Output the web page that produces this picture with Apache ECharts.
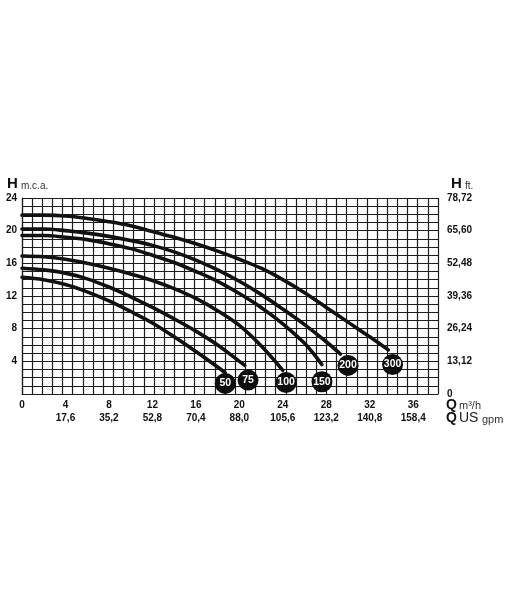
<!DOCTYPE html>
<html><head><meta charset="utf-8">
<script src="https://cdn.jsdelivr.net/npm/echarts@6/dist/echarts.min.js"></script>
<style>html,body{margin:0;padding:0;background:#fff}#c{width:510px;height:600px}</style>
</head><body><div id="c"></div>
<script>
// Axis ticks and labels
const xTicks = [0, 4, 8, 12, 16, 20, 24, 28, 32, 36];
const gpmLabels = ['', '17,6', '35,2', '52,8', '70,4', '88,0', '105,6', '123,2', '140,8', '158,4'];
const yTicksM = [0, 4, 8, 12, 16, 20, 24];
const ftLabels = ['0', '13,12', '26,24', '39,36', '52,48', '65,60', '78,72'];

// Pump curves (Q m3/h, H m.c.a.)
const q50  = [0, 2, 4, 6, 8, 10, 12, 14, 16, 18, 18.7];
const h50  = [14.3, 14.0, 13.4, 12.5, 11.4, 10.1, 8.7, 7.0, 5.2, 3.3, 2.6];
const q75  = [0, 2, 4, 6, 8, 10, 12, 14, 16, 18, 20, 20.5];
const h75  = [15.4, 15.2, 14.8, 14.1, 13.1, 11.9, 10.6, 9.2, 7.7, 6.0, 4.0, 3.5];
const q100 = [0, 2, 4, 6, 8, 10, 12, 14, 16, 18, 20, 22, 24];
const h100 = [16.9, 16.8, 16.5, 16.0, 15.4, 14.7, 13.9, 12.9, 11.7, 10.2, 8.4, 5.9, 2.9];
const q150 = [0, 2, 4, 6, 8, 10, 12, 14, 16, 18, 20, 22, 24, 26, 27.6];
const h150 = [19.4, 19.4, 19.2, 18.9, 18.4, 17.8, 17.0, 16.1, 15.0, 13.8, 12.3, 10.6, 8.6, 6.2, 3.6];
const q200 = [0, 2, 4, 6, 8, 10, 12, 14, 16, 18, 20, 22, 24, 26, 28, 29.3];
const h200 = [20.2, 20.2, 20.0, 19.7, 19.3, 18.8, 18.2, 17.4, 16.4, 15.2, 13.8, 12.2, 10.4, 8.5, 6.4, 4.9];
const q300 = [0, 2, 4, 6, 8, 10, 12, 14, 16, 18, 20, 22, 24, 26, 28, 30, 32, 33.7];
const h300 = [21.9, 21.9, 21.8, 21.5, 21.1, 20.6, 19.9, 19.2, 18.4, 17.5, 16.5, 15.4, 14.0, 12.4, 10.6, 8.8, 7.0, 5.4];

// Curve labels (circles)
const curveNames = ['50', '75', '100', '150', '200', '300'];
const markerQ = [18.7, 20.8, 24.3, 27.6, 30.0, 34.1];
const markerH = [1.3, 1.7, 1.4, 1.5, 3.5, 3.6];

const curves = [[q50, h50], [q75, h75], [q100, h100], [q150, h150], [q200, h200], [q300, h300]];
const zip = (a, b) => a.map((v, i) => [v, b[i]]);

const FONT = "'Liberation Sans', Arial, sans-serif";
const gridColor = '#1c1c1c';

const chart = echarts.init(document.getElementById('c'), null, {renderer: 'canvas'});
const series = curves.map((c, i) => ({
  type: 'line', name: curveNames[i], xAxisIndex: 0, yAxisIndex: 0,
  data: zip(c[0], c[1]), smooth: 0.35, showSymbol: false, symbol: 'none',
  lineStyle: {color: '#111', width: 3.6, cap: 'round'}, silent: true, z: 3
}));
series.push({
  type: 'scatter', xAxisIndex: 0, yAxisIndex: 0, z: 5, silent: true,
  data: markerQ.map((q, i) => ({value: [q, markerH[i]], name: curveNames[i]})),
  symbol: 'circle', symbolSize: 21,
  itemStyle: {color: '#0d0d0d', opacity: 1},
  label: {show: true, position: 'inside', formatter: p => p.name, color: '#fff',
          fontFamily: "'Liberation Sans Narrow', 'Liberation Sans', Arial", fontWeight: 'bold', fontSize: 10.5}
});

chart.setOption({
  animation: false,
  backgroundColor: '#fff',
  grid: {left: 22, right: 72, top: 198, height: 196, containLabel: false},
  xAxis: [{
    type: 'value', min: 0, max: 38.28, interval: 4, position: 'bottom',
    axisLine: {show: false}, axisTick: {show: false}, splitLine: {show: false},
    axisLabel: {
      margin: 5, lineHeight: 13,
      formatter: v => { const i = xTicks.indexOf(v); return i < 0 ? '' : '{a|' + v + '}\n{b|' + (gpmLabels[i] || ' ') + '}'; },
      rich: {
        a: {fontFamily: FONT, fontWeight: 'bold', fontSize: 10, color: '#111', lineHeight: 13},
        b: {fontFamily: FONT, fontWeight: 'bold', fontSize: 10, color: '#111', lineHeight: 13}
      }
    }
  }, {
    type: 'value', min: 0, max: 41, interval: 1, position: 'bottom',
    axisLine: {show: true, lineStyle: {color: gridColor, width: 1.2}},
    axisTick: {show: false}, axisLabel: {show: false},
    splitLine: {show: true, lineStyle: {color: gridColor, width: 1.2}}
  }],
  yAxis: [{
    type: 'value', min: 0, max: 24, interval: 1, position: 'left',
    axisLine: {show: true, lineStyle: {color: gridColor, width: 1.2}},
    axisTick: {show: false},
    splitLine: {show: true, lineStyle: {color: gridColor, width: 1.2}},
    axisLabel: {margin: 5, fontFamily: FONT, fontWeight: 'bold', fontSize: 10, color: '#111',
      formatter: v => (yTicksM.indexOf(v) > 0 ? String(v) : '')}
  }, {
    type: 'value', min: 0, max: 24, interval: 4, position: 'right',
    axisLine: {show: false}, axisTick: {show: false}, splitLine: {show: false},
    axisLabel: {margin: 9, align: 'left', fontFamily: FONT, fontWeight: 'bold', fontSize: 10, color: '#111',
      formatter: v => { const i = yTicksM.indexOf(v); return i < 0 ? '' : ftLabels[i]; }}
  }],
  graphic: [
    {type: 'text', left: 7, top: 176, style: {text: 'H', font: 'bold 15px ' + FONT, fill: '#111'}},
    {type: 'text', left: 21, top: 181, style: {text: 'm.c.a.', font: '10px ' + FONT, fill: '#333'}},
    {type: 'text', left: 451, top: 176, style: {text: 'H', font: 'bold 15px ' + FONT, fill: '#111'}},
    {type: 'text', left: 465, top: 181, style: {text: 'ft.', font: '10px ' + FONT, fill: '#333'}},
    {type: 'text', left: 446, top: 398, style: {text: 'Q', font: 'bold 14px ' + FONT, fill: '#111'}},
    {type: 'text', left: 459, top: 400, style: {text: 'm³/h', font: '11px ' + FONT, fill: '#333'}},
    {type: 'text', left: 446, top: 411, style: {text: 'Q', font: 'bold 14px ' + FONT, fill: '#111'}},
    {type: 'text', left: 459, top: 411, style: {text: 'US', font: '14px ' + FONT, fill: '#222'}},
    {type: 'text', left: 482, top: 414, style: {text: 'gpm', font: '11px ' + FONT, fill: '#333'}}
  ],
  series: series
});
</script>
</body></html>
